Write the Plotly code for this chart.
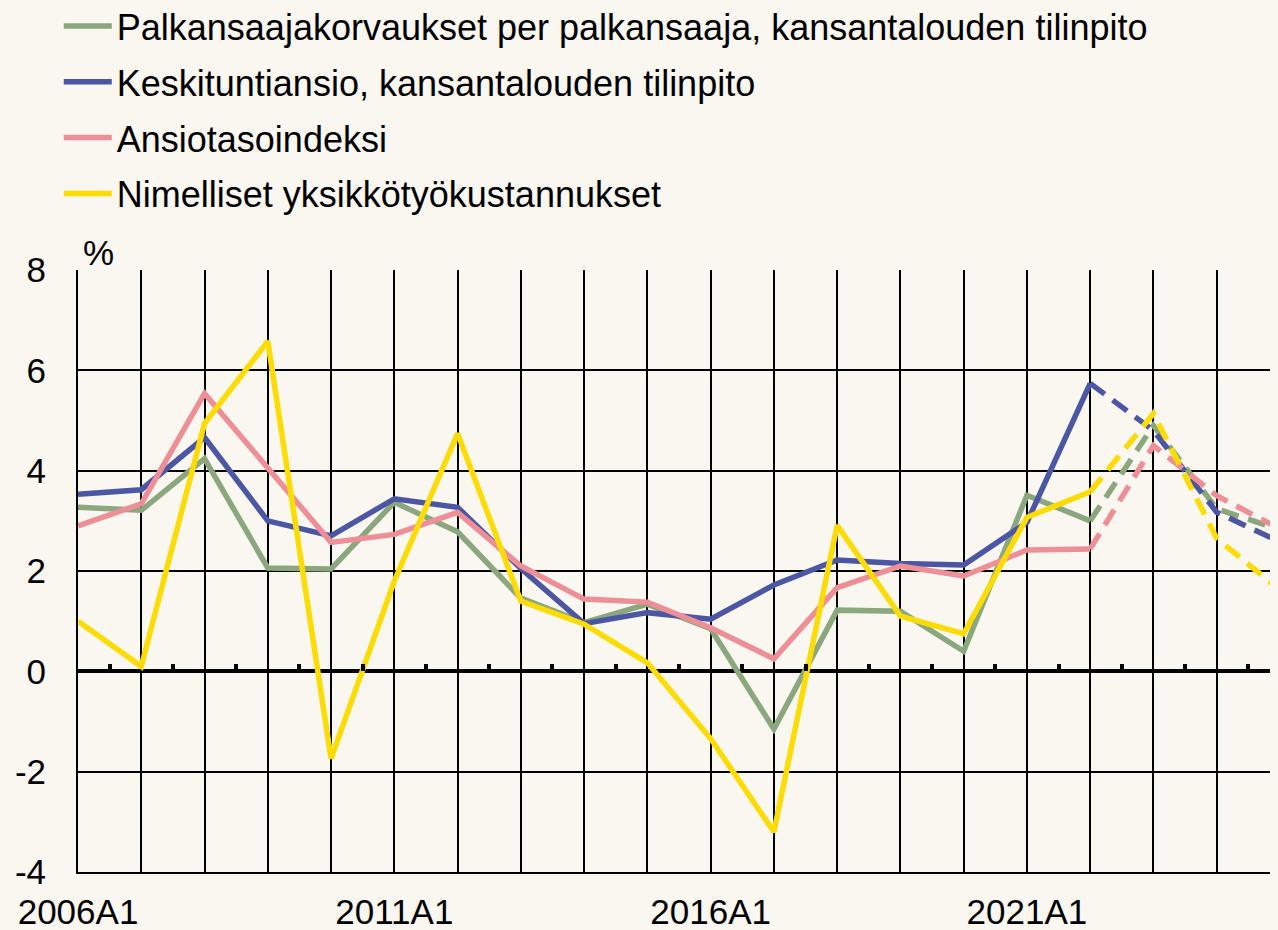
import plotly.graph_objects as go

years = list(range(2006, 2026))
tick_text = [f"{y}A1" if (y - 2006) % 5 == 0 else "" for y in years]
y_ticks = [-4, -2, 0, 2, 4, 6, 8]
y_tick_text = [str(v) for v in y_ticks]  # plain hyphen, as in the original

palkansaajakorvaukset = [3.27, 3.21, 4.24, 2.06, 2.04, 3.37, 2.78, 1.46, 0.97, 1.34,
                         0.85, -1.15, 1.22, 1.20, 0.40, 3.51, 3.00, 4.90, 3.24, 2.82]
keskituntiansio = [3.53, 3.62, 4.66, 3.00, 2.70, 3.44, 3.27, 2.05, 0.95, 1.17,
                   1.04, 1.72, 2.22, 2.15, 2.12, 2.97, 5.74, 4.80, 3.17, 2.58]
ansiotasoindeksi = [2.90, 3.34, 5.54, 4.07, 2.57, 2.73, 3.17, 2.10, 1.44, 1.38,
                    0.87, 0.25, 1.67, 2.10, 1.90, 2.42, 2.44, 4.50, 3.50, 2.84]
yksikkotyokustannukset = [1.00, 0.10, 4.94, 6.58, -1.74, 1.80, 4.74, 1.40, 0.94, 0.17,
                          -1.34, -3.20, 2.91, 1.10, 0.75, 3.07, 3.58, 5.14, 2.65, 1.62]

series = [
    ("Palkansaajakorvaukset per palkansaaja, kansantalouden tilinpito", palkansaajakorvaukset, "#8AA77E"),
    ("Keskituntiansio, kansantalouden tilinpito", keskituntiansio, "#4C57A4"),
    ("Ansiotasoindeksi", ansiotasoindeksi, "#EE8E96"),
    ("Nimelliset yksikkötyökustannukset", yksikkotyokustannukset, "#FFDC00"),
]
forecast_from = 2022  # dashed from here on

FONT = "Liberation Sans, Arial, sans-serif"
BG = "#FAF6F0"

fig = go.Figure()
split = years.index(forecast_from)
for i, (name, vals, color) in enumerate(series):
    fig.add_trace(go.Scatter(
        x=years[:split + 1], y=vals[:split + 1], name=name, mode="lines",
        line=dict(color=color, width=5.5), legendgroup=str(i),
    ))
    fig.add_trace(go.Scatter(
        x=years[split:], y=vals[split:], name=name, mode="lines",
        line=dict(color=color, width=5.5, dash="18px,10px"),
        legendgroup=str(i), showlegend=False,
    ))

# helper axis for the small marks on the zero line
fig.add_trace(go.Scatter(x=[], y=[], xaxis="x2", showlegend=False, hoverinfo="skip"))

fig.update_layout(
    width=1272, height=922,
    margin=dict(l=70, r=0, t=262, b=58, autoexpand=False),
    paper_bgcolor=BG, plot_bgcolor=BG,
    font=dict(family=FONT, size=35, color="black"),
    showlegend=True,
    legend=dict(
        x=-0.016, y=1.455, xanchor="left", yanchor="top",
        bgcolor="rgba(0,0,0,0)", font=dict(size=36),
        tracegroupgap=6, itemwidth=48,
    ),
    xaxis=dict(
        range=[2006, 2025], tickvals=years, ticktext=tick_text, tickangle=0,
        showgrid=True, gridcolor="black", gridwidth=2,
        zeroline=False, showline=True, linecolor="black", linewidth=2,
        ticks="", ticklabelstandoff=8,
    ),
    xaxis2=dict(
        overlaying="x", matches="x", anchor="free", position=1 / 3,
        tickvals=[y + 0.5 for y in years[:-1]], ticks="inside",
        ticklen=7, tickwidth=4, tickcolor="black",
        showticklabels=False, showgrid=False, zeroline=False, showline=False,
    ),
    yaxis=dict(
        range=[-4, 8], tickvals=y_ticks, ticktext=y_tick_text,
        showgrid=True, gridcolor="black", gridwidth=2,
        zeroline=True, zerolinecolor="black", zerolinewidth=4,
        showline=True, linecolor="black", linewidth=2,
        ticks="", ticklabelstandoff=23,
    ),
    annotations=[dict(
        text="%", xref="paper", yref="paper", x=0, y=1,
        xanchor="left", yanchor="bottom", xshift=3, yshift=-4,
        showarrow=False, font=dict(size=35),
    )],
)

fig.write_html(
    "out.html",
    post_script=f"document.body.style.background='{BG}';",
)
